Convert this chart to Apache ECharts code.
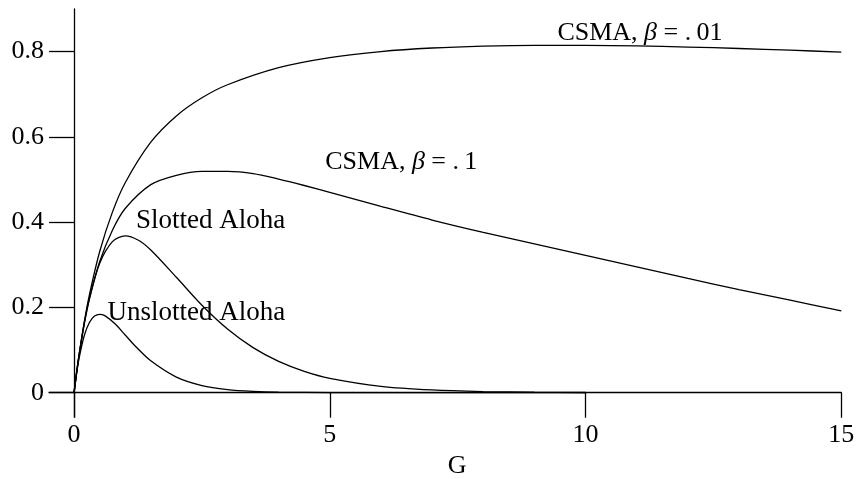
<!DOCTYPE html>
<html><head><meta charset="utf-8">
<script src="https://cdn.jsdelivr.net/npm/echarts@6/dist/echarts.min.js"></script>
<style>html,body{margin:0;padding:0;background:#fff}#c{width:857px;height:479px}</style>
</head><body><div id="c"></div>
<script>
const xTicks = [0, 5, 10, 15];
const yTicks = [0, 0.2, 0.4, 0.6, 0.8];

const gUnslotted = [0,0.05,0.1,0.2,0.3,0.4,0.5,0.6,0.8,1,1.2,1.5,2,2.5,3,3.5,4,5,6,8,10];
const sUnslotted = [0,0.0452,0.0819,0.1341,0.1646,0.1797,0.1839,0.1807,0.1615,0.1353,0.1089,0.0747,0.0366,0.0168,0.0074,0.0032,0.0013,0.0002,0,0,0];

const gSlotted = [0,0.05,0.1,0.2,0.3,0.5,0.75,1,1.25,1.5,2,2.5,3,3.5,4,4.5,5,6,7,8,9,10];
const sSlotted = [0,0.0476,0.0905,0.1637,0.2222,0.3033,0.3543,0.3679,0.3581,0.3347,0.2707,0.2052,0.1494,0.1057,0.0733,0.0500,0.0337,0.0149,0.0064,0.0027,0.0011,0.0005];

const gCsma01 = [0,0.05,0.1,0.2,0.3,0.5,0.75,1,1.5,2,2.5,3,4,5,6,7,8,9,10,11,12,13,14,15];
const sCsma01 = [0,0.0476,0.0907,0.1661,0.2295,0.3306,0.4235,0.4925,0.5875,0.6491,0.6917,0.7223,0.7624,0.7860,0.8002,0.8085,0.8130,0.8149,0.8148,0.8133,0.8108,0.8074,0.8034,0.7989];

const gCsma1 = [0,0.05,0.1,0.2,0.3,0.5,0.75,1,1.5,2,2.5,3,3.5,4,4.5,5,6,7,8,9,10,11,12,13,14,15];
const sCsma1 = [0,0.0475,0.089,0.161,0.219,0.307,0.381,0.432,0.488,0.510,0.519,0.519,0.514,0.501,0.486,0.470,0.437,0.405,0.376,0.349,0.322,0.295,0.268,0.242,0.217,0.192];

const FONT = '"Liberation Serif", "Times New Roman", serif';
const FS = 26;

const pairs = (g, s) => g.map((v, i) => [v, s[i]]);
const lineSeries = (name, g, s) => ({
  name, type: 'line', data: pairs(g, s), showSymbol: false, symbol: 'none',
  smooth: 0.3, lineStyle: { color: '#000', width: 1.3 }, silent: true
});

const chart = echarts.init(document.getElementById('c'), null, { renderer: 'canvas' });
chart.setOption({
  animation: false,
  backgroundColor: '#fff',
  grid: { left: 49, right: 15.7, top: 9, bottom: 62, containLabel: false, outerBoundsMode: 'none' },
  xAxis: {
    type: 'value', min: -0.49, max: 15,
    name: 'G', nameLocation: 'middle', nameGap: 9,
    nameTextStyle: { fontFamily: FONT, fontSize: FS, color: '#000', padding: [0, 0, 0, 24] },
    splitLine: { show: false },
    axisLine: { onZero: true, lineStyle: { color: '#000', width: 1.3 } },
    axisTick: { show: true, length: 25, customValues: xTicks, lineStyle: { color: '#000', width: 1.3 } },
    axisLabel: { customValues: xTicks, margin: 5, fontFamily: FONT, fontSize: FS, color: '#000',
      formatter: v => String(v) }
  },
  yAxis: {
    type: 'value', min: -0.057, max: 0.9,
    splitLine: { show: false },
    axisLine: { onZero: true, lineStyle: { color: '#000', width: 1.3 } },
    axisTick: { show: true, length: 25, customValues: yTicks, lineStyle: { color: '#000', width: 1.3 } },
    axisLabel: { customValues: yTicks, margin: 5, fontFamily: FONT, fontSize: FS, color: '#000',
      formatter: v => (Math.abs(v) < 1e-9 ? '0' : v.toFixed(1)) }
  },
  series: [
    lineSeries('Unslotted Aloha', gUnslotted, sUnslotted),
    lineSeries('Slotted Aloha', gSlotted, sSlotted),
    lineSeries('CSMA, β = .1', gCsma1, sCsma1),
    lineSeries('CSMA, β = .01', gCsma01, sCsma01)
  ]
});

const annotations = [
  { text: 'CSMA, {b|β} = .\u200901', at: [9.45, 0.844], align: 'left', size: 26 },
  { text: 'CSMA, {b|β} = .\u20091', at: [4.91, 0.541], align: 'left', size: 26 },
  { text: 'Slotted Aloha', at: [4.13, 0.402], align: 'right', size: 27 },
  { text: 'Unslotted Aloha', at: [4.13, 0.187], align: 'right', size: 27 }
];
chart.setOption({
  graphic: annotations.map(a => {
    const p = chart.convertToPixel({ gridIndex: 0 }, a.at);
    return {
      type: 'text', x: p[0], y: p[1], silent: true,
      style: {
        text: a.text, fill: '#000', fontFamily: FONT, fontSize: a.size,
        align: a.align, verticalAlign: 'middle',
        rich: { b: { fontFamily: FONT, fontSize: a.size, fontStyle: 'italic', fill: '#000' } }
      }
    };
  })
});
</script></body></html>
